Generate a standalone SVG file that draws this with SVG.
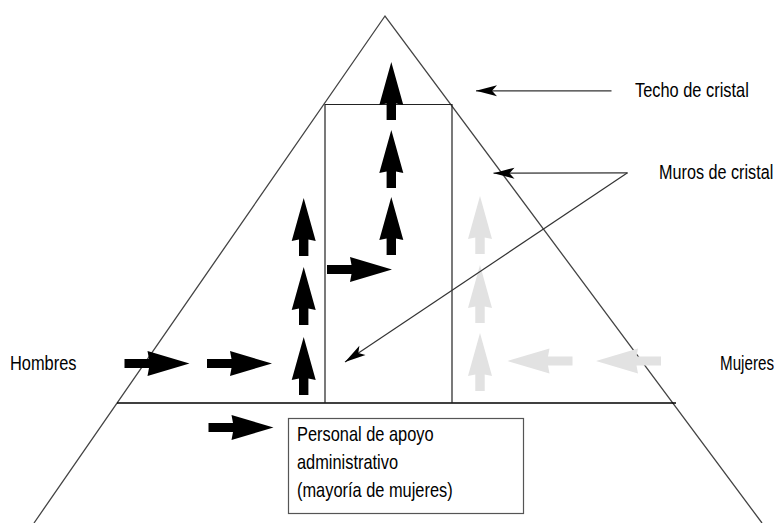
<svg xmlns="http://www.w3.org/2000/svg" xmlns:xlink="http://www.w3.org/1999/xlink" width="779" height="523" viewBox="0 0 779 523">
<style>
.t{font-family:"Liberation Sans",Arial,sans-serif;font-size:20px;fill:#000}
.tri{fill:none;stroke:#444;stroke-width:1.3}
.frame{fill:none;stroke:#222;stroke-width:1.2}
.ptr{fill:none;stroke:#333;stroke-width:1.2}
.blk{fill:#000}
.gry{fill:#e2e2e2}
</style>
<defs>
<path id="up" d="M0,0 L12,43 L4.7,41.5 L4.7,58 L-4.7,58 L-4.7,41.5 L-12,43 Z"/>
<path id="right" d="M0,0 L-42,-12.5 L-40.5,-4.6 L-65,-4.6 L-65,4.6 L-40.5,4.6 L-42,12.5 Z"/>
<marker id="ah" markerUnits="userSpaceOnUse" markerWidth="24" markerHeight="14" viewBox="-22 -7 24 14" refX="0" refY="0" orient="auto">
<path d="M0,0 L-21,-5.5 L-16,0 L-21,5.5 Z" fill="#000"/>
</marker>
</defs>
<g id="pyramid">
<polyline class="tri" points="34,523 385,16 762,523"/>
<line x1="117" y1="403" x2="676" y2="403" stroke="#000" stroke-width="1.3"/>
</g>
<g id="glass-walls">
<polyline class="frame" points="325,403 325,104.5 452,104.5 452,403"/>
</g>
<g id="support-staff">
<rect x="288.5" y="418.5" width="235" height="95" fill="#fff" stroke="#555" stroke-width="1.2"/>
<text class="t" transform="translate(297,441) scale(0.82,1)">Personal de apoyo</text>
<text class="t" transform="translate(297,469) scale(0.82,1)">administrativo</text>
<text class="t" transform="translate(297,497) scale(0.82,1)">(mayoría de mujeres)</text>
</g>
<g id="label-hombres"><text class="t" transform="translate(10,370) scale(0.82,1)">Hombres</text></g>
<g id="label-mujeres"><text class="t" transform="translate(720,370) scale(0.76,1)">Mujeres</text></g>
<g id="label-techo"><text class="t" transform="translate(635,97) scale(0.82,1)">Techo de cristal</text></g>
<g id="label-muros"><text class="t" transform="translate(659,179) scale(0.81,1)">Muros de cristal</text></g>
<g id="men-arrows" class="blk">
<use xlink:href="#right" x="189.5" y="363.5"/>
<use xlink:href="#right" x="272" y="363.5"/>
<use xlink:href="#right" x="273.5" y="427.5"/>
<use xlink:href="#up" x="303.7" y="337"/>
<use xlink:href="#up" x="303.7" y="267"/>
<use xlink:href="#up" x="303.7" y="198"/>
<use xlink:href="#right" x="392" y="269.5"/>
<use xlink:href="#up" x="391.3" y="197"/>
<use xlink:href="#up" x="391.3" y="130"/>
<use xlink:href="#up" x="391.3" y="62"/>
</g>
<g id="women-arrows" class="gry">
<use xlink:href="#right" transform="translate(596,361) scale(-1,1)"/>
<use xlink:href="#right" transform="translate(507.5,361) scale(-1,1)"/>
<use xlink:href="#up" x="480" y="333"/>
<use xlink:href="#up" x="480" y="265"/>
<use xlink:href="#up" x="480" y="196"/>
</g>
<g id="connectors">
<line class="ptr" x1="611.5" y1="90.8" x2="476" y2="90.8" marker-end="url(#ah)"/>
<line class="ptr" x1="627.5" y1="172.8" x2="493.5" y2="173.2" marker-end="url(#ah)"/>
<line class="ptr" x1="627.5" y1="172.8" x2="345" y2="362" marker-end="url(#ah)"/>
</g>
</svg>
